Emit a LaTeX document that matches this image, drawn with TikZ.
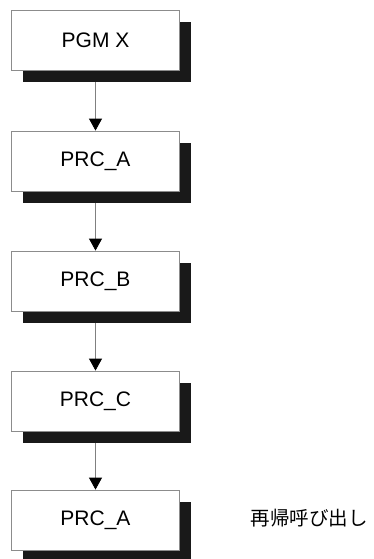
\documentclass[tikz,border=0pt]{standalone}
\usepackage{fontspec}
\setmainfont{Liberation Sans}
\newfontfamily\jpfont{Noto Sans CJK JP}
\usetikzlibrary{arrows.meta,shadows}

\tikzset{
  procbox/.style={draw=black!45, line width=0.8pt, fill=white,
    minimum width=168pt, minimum height=60pt, inner sep=0pt,
    font=\fontsize{21}{25}\selectfont,
    drop shadow={shadow xshift=11.5pt, shadow yshift=-12pt, fill=black!90, opacity=1}},
  callarrow/.style={draw=black!50, line width=0.9pt,
    -{Triangle[length=12pt, width=13pt, color=black]}}
}

\begin{document}
\begin{tikzpicture}[x=1pt, y=-1pt]
                \useasboundingbox (0,0) rectangle (374,559);
                \node[procbox] (pgm)  at (95.5,40)  {PGM X};
                \node[procbox] (prca) at (95.5,161) {PRC\_A};
                \node[procbox] (prcb) at (95.5,281) {PRC\_B};
                \node[procbox] (prcc) at (95.5,401) {PRC\_C};
                \node[procbox] (prcr) at (95.5,520) {PRC\_A};
                \node[anchor=west, font=\jpfont\fontsize{19.5}{24}\selectfont] (recur) at (247,518) {再帰呼び出し};
                % calls between the boxes
                \foreach \from/\to in {pgm/prca, prca/prcb, prcb/prcc, prcc/prcr}
                    \draw[callarrow] ([yshift=-12pt]\from.south) -- (\to.north);
            \end{tikzpicture}
\end{document}
